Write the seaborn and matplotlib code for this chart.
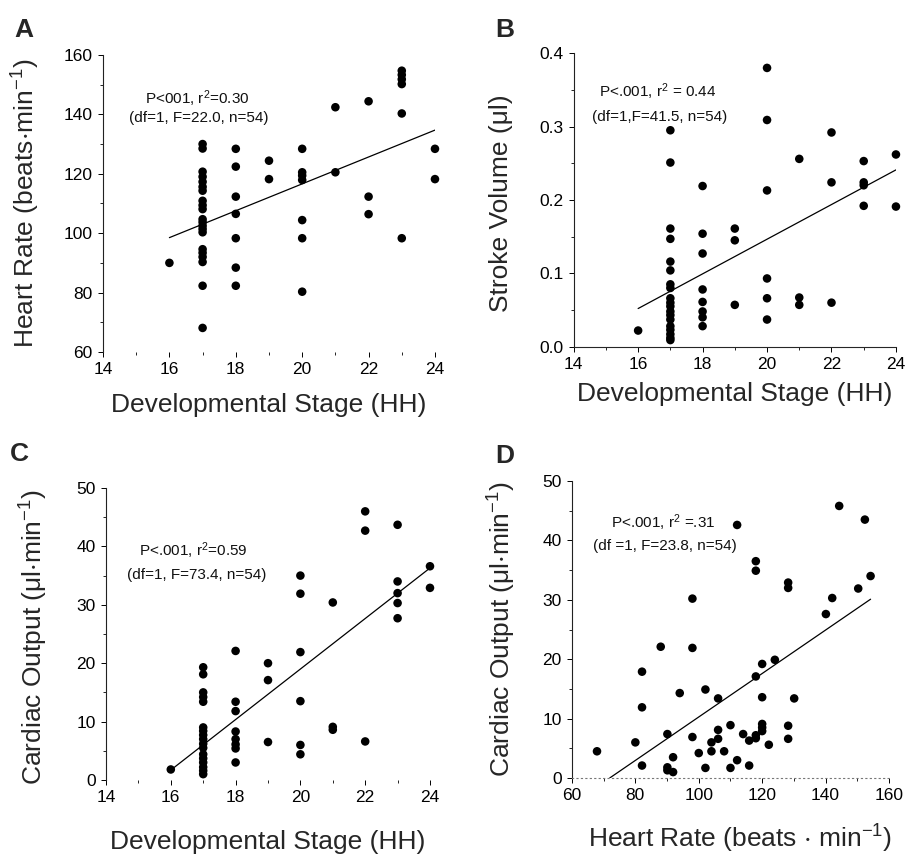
import numpy as np
import pandas as pd
import matplotlib
matplotlib.use("Agg")
import matplotlib.pyplot as plt
import seaborn as sns
from matplotlib.ticker import MultipleLocator, FormatStrFormatter

# ---------------- data ----------------
hr_by_stage = {
    16: [90],
    17: [130, 128.5, 120.7, 119, 117.3, 115.6, 114.3, 110.9, 109.4, 108.1,
         104.7, 103.7, 102.5, 101.4, 100.3, 94.6, 93.4, 92, 90.3, 82.3, 68.1],
    18: [128.4, 122.4, 112.3, 106.5, 98.3, 88.4, 82.3],
    19: [124.4, 118.2],
    20: [128.4, 120.5, 119.4, 117.9, 104.4, 98.3, 80.3],
    21: [142.4, 120.5],
    22: [144.4, 112.3, 106.4],
    23: [154.7, 153.3, 151.8, 150.2, 140.3, 98.3],
    24: [128.4, 118.2],
}
sv_by_stage = {
    16: [0.022],
    17: [0.295, 0.251, 0.161, 0.147, 0.116, 0.104, 0.085, 0.080, 0.066, 0.060,
         0.055, 0.048, 0.043, 0.037, 0.028, 0.023, 0.017, 0.012, 0.009],
    18: [0.219, 0.154, 0.127, 0.078, 0.061, 0.048, 0.040, 0.028],
    19: [0.161, 0.145, 0.057],
    20: [0.380, 0.309, 0.213, 0.093, 0.066, 0.037],
    21: [0.256, 0.067, 0.057],
    22: [0.292, 0.224, 0.060],
    23: [0.253, 0.224, 0.220, 0.192],
    24: [0.262, 0.191],
}
co_by_stage = {
    16: [1.8],
    17: [19.3, 18.1, 15.0, 14.2, 13.4, 9.0, 8.4, 7.7, 7.0, 6.2, 5.5, 4.4, 3.7,
         3.0, 2.2, 1.6, 1.0],
    18: [22.1, 13.4, 11.8, 8.3, 7.0, 6.1, 5.4, 3.0],
    19: [20.0, 17.1, 6.5],
    20: [35.0, 31.9, 21.9, 13.5, 6.0, 4.4],
    21: [30.4, 9.1, 8.6],
    22: [46.0, 42.7, 6.6],
    23: [43.7, 34.0, 32.0, 30.3, 27.7],
    24: [36.6, 32.9],
}
d_hr = [67.9, 80, 82.1, 82.1, 82.1, 88, 90.1, 90.1, 90.1, 91.9, 91.9, 94, 98, 98,
        98, 100, 102.1, 102.1, 104, 104, 106.1, 106.1, 106.1, 108, 110, 110,
        112.1, 112.1, 114, 115.9, 115.9, 118, 118, 118, 118, 118, 120, 120, 120,
        120, 120, 122.1, 124, 128.2, 128.2, 128.2, 128.2, 130.1, 140.1, 142.1,
        144.3, 150.3, 152.4, 154.2]
d_co = [4.5, 6.0, 2.1, 11.9, 17.9, 22.1, 7.4, 1.8, 1.3, 3.5, 1.0, 14.3, 30.2, 21.9,
        6.9, 4.2, 14.9, 1.7, 6.0, 4.5, 13.4, 8.1, 6.6, 4.5, 8.9, 1.7, 3.0, 42.6,
        7.4, 2.1, 6.3, 36.5, 34.9, 17.1, 6.7, 7.2, 19.2, 13.6, 9.1, 8.5, 7.9, 5.6,
        19.9, 32.9, 32.0, 8.8, 6.6, 13.4, 27.6, 30.3, 45.8, 31.9, 43.5, 34.0]

# regression lines as drawn in the figure (end points)
fitA_x, fitA_y = [16, 24], [98.5, 134.7]
fitB_x, fitB_y = [16, 24], [0.052, 0.241]
fitC_x, fitC_y = [16, 24], [1.7, 36.3]
fitD_x, fitD_y = [71.9, 154.2], [0.0, 30.1]


def to_long(d, name):
    rows = [(s, v) for s, vals in d.items() for v in vals]
    return pd.DataFrame(rows, columns=["stage", name])


dfA = to_long(hr_by_stage, "hr")
dfB = to_long(sv_by_stage, "sv")
dfC = to_long(co_by_stage, "co")
dfD = pd.DataFrame({"hr": d_hr, "co": d_co})

# ---------------- style ----------------
sns.set_theme(style="ticks")
plt.rcParams["font.family"] = ["Liberation Sans", "DejaVu Sans"]
plt.rcParams["mathtext.fontset"] = "custom"
plt.rcParams["mathtext.rm"] = "Liberation Sans"
plt.rcParams["mathtext.it"] = "Liberation Sans:italic"
plt.rcParams["axes.unicode_minus"] = True

fig = plt.figure(figsize=(9.06, 8.56), dpi=100)
fig.patch.set_facecolor("white")

axA = fig.add_axes([0.1137, 0.5888, 0.3664, 0.3470])
axB = fig.add_axes([0.6332, 0.5950, 0.3557, 0.3428])
axC = fig.add_axes([0.1170, 0.0888, 0.3576, 0.3411])
axD = fig.add_axes([0.6313, 0.0911, 0.3499, 0.3470])

sc_kws = dict(s=38, color="black", edgecolor="none", linewidth=0, alpha=1,
              clip_on=False, zorder=3, legend=False)
ln_kws = dict(color="black", lw=0.9, legend=False)

sns.scatterplot(data=dfA, x="stage", y="hr", ax=axA, **sc_kws)
sns.scatterplot(data=dfB, x="stage", y="sv", ax=axB, **sc_kws)
sns.scatterplot(data=dfC, x="stage", y="co", ax=axC, **sc_kws)
sns.scatterplot(data=dfD, x="hr", y="co", ax=axD, **sc_kws)
sns.lineplot(x=fitA_x, y=fitA_y, ax=axA, **ln_kws)
sns.lineplot(x=fitB_x, y=fitB_y, ax=axB, **ln_kws)
sns.lineplot(x=fitC_x, y=fitC_y, ax=axC, **ln_kws)
sns.lineplot(x=fitD_x, y=fitD_y, ax=axD, **ln_kws)

tick_fs = 12.5
label_fs = 19

for ax in (axA, axB, axC):
    ax.set_xlim(14, 24)
    ax.xaxis.set_major_locator(MultipleLocator(2))
    ax.xaxis.set_minor_locator(MultipleLocator(1))
axA.set_ylim(60, 160)
axA.yaxis.set_major_locator(MultipleLocator(20))
axA.yaxis.set_minor_locator(MultipleLocator(10))
axB.set_ylim(0, 0.4)
axB.yaxis.set_major_locator(MultipleLocator(0.1))
axB.yaxis.set_minor_locator(MultipleLocator(0.05))
axB.yaxis.set_major_formatter(FormatStrFormatter("%.1f"))
for ax in (axC, axD):
    ax.set_ylim(0, 50)
    ax.yaxis.set_major_locator(MultipleLocator(10))
    ax.yaxis.set_minor_locator(MultipleLocator(5))
axD.set_xlim(60, 160)
axD.xaxis.set_major_locator(MultipleLocator(20))
axD.xaxis.set_minor_locator(MultipleLocator(10))

for ax in (axA, axB, axC, axD):
    for s in ("top", "right"):
        ax.spines[s].set_visible(False)
    ax.spines["left"].set_linewidth(0.8)
    ax.spines["left"].set_color("#222222")
    ax.spines["bottom"].set_linewidth(0.8)
    ax.tick_params(axis="both", which="major", direction="out", length=3.5,
                   width=0.7, labelsize=tick_fs, colors="black", pad=4)
    ax.tick_params(axis="both", which="minor", direction="out", length=2.5,
                   width=0.6, colors="black")
    ax.set_facecolor("white")

for ax in (axA, axC):
    ax.spines["bottom"].set_visible(False)
axD.spines["bottom"].set_linestyle((0, (1, 3)))
axD.spines["bottom"].set_color("#777777")

axA.set_xlabel("Developmental Stage (HH)", fontsize=label_fs)
axB.set_xlabel("Developmental Stage (HH)", fontsize=label_fs)
axC.set_xlabel("Developmental Stage (HH)", fontsize=label_fs)
axD.set_xlabel(r"Heart Rate (beats $\mathregular{\cdot}$ min$\mathregular{^{-1}}$)", fontsize=label_fs)
axA.set_ylabel(r"Heart Rate (beats$\mathregular{\cdot}$min$\mathregular{^{-1}}$)", fontsize=label_fs)
axB.set_ylabel("Stroke Volume (μl)", fontsize=label_fs)
axC.set_ylabel(r"Cardiac Output (μl$\mathregular{\cdot}$min$\mathregular{^{-1}}$)", fontsize=label_fs)
axD.set_ylabel(r"Cardiac Output (μl$\mathregular{\cdot}$min$\mathregular{^{-1}}$)", fontsize=label_fs)

axA.xaxis.set_label_coords(0.5, -0.138)
axB.xaxis.set_label_coords(0.5, -0.120)
axC.xaxis.set_label_coords(0.5, -0.171)
axD.xaxis.set_label_coords(0.53, -0.150)
axA.yaxis.set_label_coords(-0.184, 0.5)
axB.yaxis.set_label_coords(-0.188, 0.49)
axC.yaxis.set_label_coords(-0.173, 0.49)
axD.yaxis.set_label_coords(-0.170, 0.5)

ann_fs = 11
annots = [
    (axA, r"P<001, r$\mathregular{^2}$=0.30", "(df=1, F=22.0, n=54)", (0.283, 0.852), (0.289, 0.788)),
    (axB, r"P<.001, r$\mathregular{^2}$ = 0.44", "(df=1,F=41.5, n=54)", (0.262, 0.868), (0.268, 0.783)),
    (axC, r"P<.001, r$\mathregular{^2}$=0.59", "(df=1, F=73.4, n=54)", (0.269, 0.784), (0.281, 0.702)),
    (axD, r"P<.001, r$\mathregular{^2}$ =.31", "(df =1, F=23.8, n=54)", (0.287, 0.859), (0.293, 0.781)),
]
for ax, t1, t2, p1, p2 in annots:
    ax.text(*p1, t1, transform=ax.transAxes, ha="center", va="center",
            fontsize=ann_fs, color="#111111")
    ax.text(*p2, t2, transform=ax.transAxes, ha="center", va="center",
            fontsize=ann_fs, color="#111111")

for letter, x, y in [("A", 14, 37), ("B", 495, 37), ("C", 10, 461), ("D", 495, 463)]:
    fig.text(x / 906, 1 - y / 856, letter, fontsize=19, fontweight="bold",
             ha="left", va="baseline")

fig.savefig("out.png", dpi=100, facecolor="white")
